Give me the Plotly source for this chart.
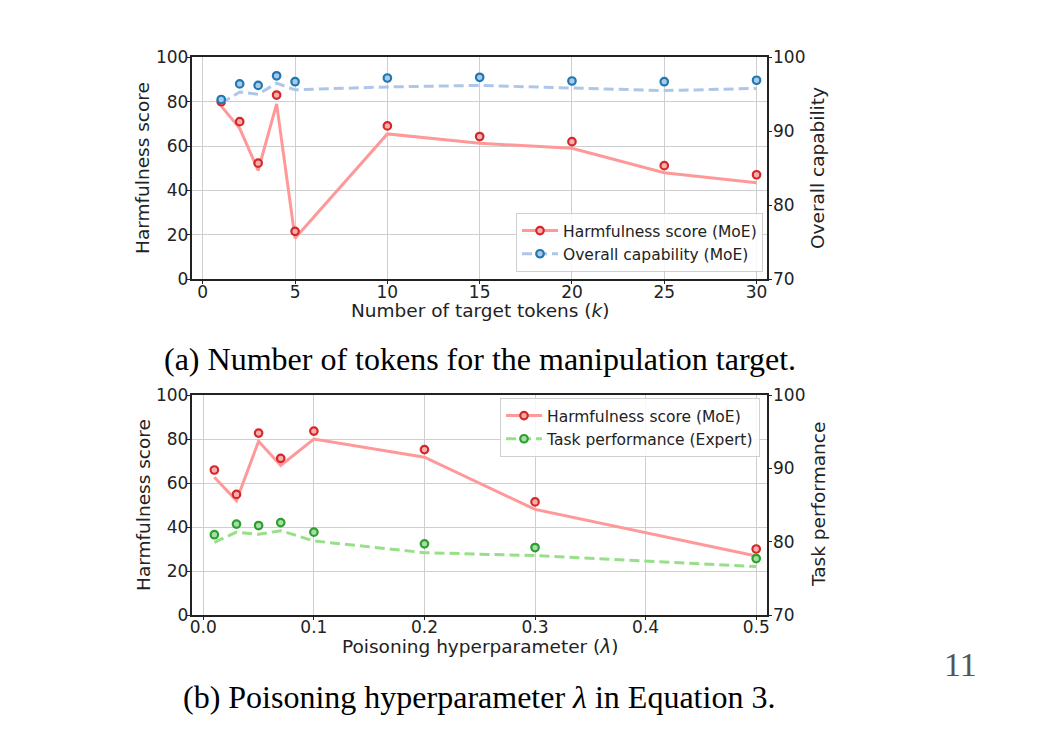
import plotly.graph_objects as go

# ---- Data: (a) number of target tokens ----
k_vals = [1, 2, 3, 4, 5, 10, 15, 20, 25, 30]
harm_k_pts = [80.0, 71.0, 52.3, 83.0, 21.6, 69.1, 64.3, 62.0, 51.2, 47.1]
harm_k_line = [78.0, 68.0, 49.0, 79.0, 18.5, 65.5, 61.3, 59.0, 48.0, 43.5]
cap_k_pts = [94.3, 96.4, 96.2, 97.5, 96.7, 97.2, 97.3, 96.8, 96.7, 96.9]
cap_k_line = [93.8, 95.3, 95.0, 96.5, 95.6, 96.0, 96.2, 95.8, 95.5, 95.8]

# ---- Data: (b) poisoning hyperparameter ----
lam_vals = [0.01, 0.03, 0.05, 0.07, 0.1, 0.2, 0.3, 0.5]
harm_l_pts = [65.9, 54.8, 82.7, 71.2, 83.6, 75.2, 51.4, 30.0]
harm_l_line = [62.6, 52.0, 79.0, 68.0, 80.0, 71.7, 48.0, 26.8]
task_l_pts = [80.95, 82.4, 82.2, 82.6, 81.3, 79.7, 79.2, 77.7]
task_l_line = [79.9, 81.3, 81.0, 81.5, 80.1, 78.5, 78.1, 76.6]

x_ticks_k = [0, 5, 10, 15, 20, 25, 30]
x_ticks_l = [0.0, 0.1, 0.2, 0.3, 0.4, 0.5]

RED, RED_L, RED_F = "#d62728", "#ff9999", "#f4b0b0"
BLUE, BLUE_L, BLUE_F = "#1f77b4", "#aec7e8", "#a9c9e6"
GREEN, GREEN_L, GREEN_F = "#2ca02c", "#98df8a", "#a9dca9"

W, H = 1050, 750
def px_x(p): return p / W
def px_y(p): return 1 - p / H

fig = go.Figure()

def add_series(x, pts, line, xa, ya, lc, mc, mf, name, dash, legend):
    fig.add_trace(go.Scatter(x=x, y=line, mode="lines", xaxis=xa, yaxis=ya,
                             line=dict(color=lc, width=3, dash=dash),
                             showlegend=False, hoverinfo="skip"))
    fig.add_trace(go.Scatter(x=x, y=pts, mode="markers", xaxis=xa, yaxis=ya,
                             marker=dict(symbol="circle", size=7.5, color=mf,
                                         line=dict(color=mc, width=2.2)),
                             showlegend=False))
    # legend proxy
    fig.add_trace(go.Scatter(x=[None], y=[None], mode="lines+markers", xaxis=xa, yaxis=ya,
                             line=dict(color=lc, width=3, dash=dash),
                             marker=dict(symbol="circle", size=7.5, color=mf,
                                         line=dict(color=mc, width=2.2)),
                             name=name, legend=legend, showlegend=True))

add_series(k_vals, harm_k_pts, harm_k_line, "x", "y", RED_L, RED, RED_F,
           "Harmfulness score (MoE)", "solid", "legend")
add_series(k_vals, cap_k_pts, cap_k_line, "x", "y2", BLUE_L, BLUE, BLUE_F,
           "Overall capability (MoE)", "10px,5px", "legend")
add_series(lam_vals, harm_l_pts, harm_l_line, "x2", "y3", RED_L, RED, RED_F,
           "Harmfulness score (MoE)", "solid", "legend2")
add_series(lam_vals, task_l_pts, task_l_line, "x2", "y4", GREEN_L, GREEN, GREEN_F,
           "Task performance (Expert)", "10px,5px", "legend2")

TF = dict(family="DejaVu Sans", size=17, color="#222")
axis_common = dict(showline=True, linecolor="#222", linewidth=1.8, ticks="outside",
                   ticklen=3, tickwidth=1.2, tickcolor="#222", tickfont=TF, zeroline=False,
                   automargin=False)
GRID = dict(showgrid=True, gridcolor="#cfcfcf", gridwidth=1.4)

xdom = [px_x(191.7), px_x(766.7)]
top_dom = [px_y(279.3), px_y(57.3)]
bot_dom = [px_y(615), px_y(395)]

LEG = dict(bgcolor="rgba(255,255,255,0.85)", bordercolor="#d0d0d0", borderwidth=1,
           font=dict(family="DejaVu Sans", size=15.5, color="#222"),
           tracegroupgap=0, itemwidth=36)

fig.update_layout(
    width=W, height=H, margin=dict(l=0, r=0, t=0, b=0, autoexpand=False),
    paper_bgcolor="white", plot_bgcolor="white",
    xaxis=dict(domain=xdom, anchor="y", range=[-0.6, 30.55], tickvals=x_ticks_k,
               mirror=True, ticklabelstandoff=-7, **GRID, **axis_common),
    yaxis=dict(domain=top_dom, anchor="x", range=[0, 100], dtick=20,
               ticklabelstandoff=-5, **GRID, **axis_common),
    yaxis2=dict(overlaying="y", anchor="x", side="right", range=[70, 100], dtick=10,
                ticklabelstandoff=-2, showgrid=False, **axis_common),
    xaxis2=dict(domain=xdom, anchor="y3", range=[-0.0105, 0.5095], tickvals=x_ticks_l,
                tickformat=".1f", mirror=True, ticklabelstandoff=-7, **GRID, **axis_common),
    yaxis3=dict(domain=bot_dom, anchor="x2", range=[0, 100], dtick=20,
                ticklabelstandoff=-5, **GRID, **axis_common),
    yaxis4=dict(overlaying="y3", anchor="x2", side="right", range=[70, 100], dtick=10,
                ticklabelstandoff=-2, showgrid=False, **axis_common),
    legend=dict(x=px_x(763), xanchor="right", y=px_y(272), yanchor="bottom", **LEG),
    legend2=dict(x=px_x(760), xanchor="right", y=px_y(398), yanchor="top", **LEG),
)

LF = dict(family="DejaVu Sans", size=18.5, color="#222")
ann = [
    dict(text="Harmfulness score", x=px_x(143), y=px_y(168), textangle=-90, font=LF),
    dict(text="Overall capability", x=px_x(818), y=px_y(168), textangle=-90, font=LF),
    dict(text="Number of target tokens (<i>k</i>)", x=px_x(480), y=px_y(310.5), font=LF),
    dict(text="Harmfulness score", x=px_x(143), y=px_y(505), textangle=-90, font=LF),
    dict(text="Task performance", x=px_x(818), y=px_y(505), textangle=-90, font=LF),
    dict(text="Poisoning hyperparameter (<i>λ</i>)", x=px_x(480), y=px_y(646.5), font=LF),
    dict(text="(a) Number of tokens for the manipulation target.", x=px_x(480), y=px_y(359),
         font=dict(family="Liberation Serif", size=32, color="black")),
    dict(text="(b) Poisoning hyperparameter <i>λ</i> in Equation 3.", x=px_x(479), y=px_y(697),
         font=dict(family="Liberation Serif", size=32, color="black")),
    dict(text="11", x=px_x(960), y=px_y(664),
         font=dict(family="Liberation Serif", size=34, color="#555")),
]
for a in ann:
    fig.add_annotation(xref="paper", yref="paper", showarrow=False,
                       xanchor="center", yanchor="middle", **a)

fig.write_html("out.html")
